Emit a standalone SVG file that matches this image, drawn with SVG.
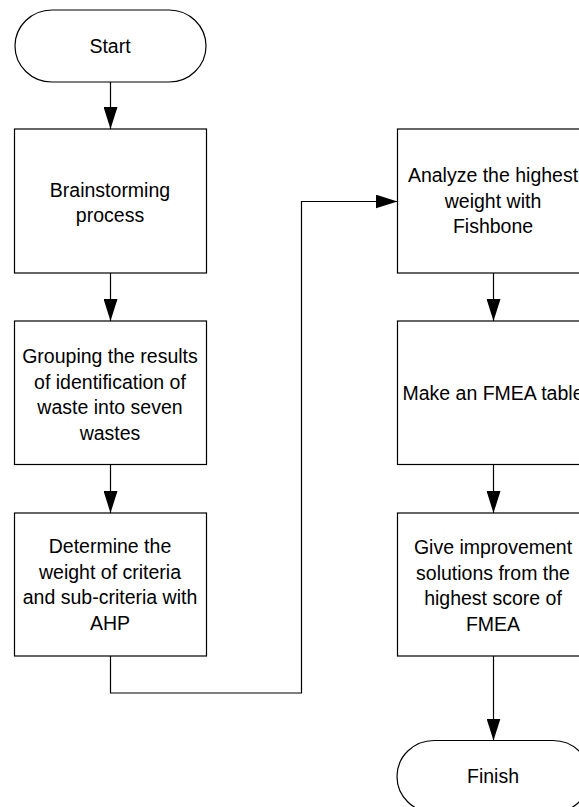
<svg xmlns="http://www.w3.org/2000/svg" width="579" height="807" viewBox="0 0 579 807">
<defs>
<style>
.shape{fill:#fff;stroke:#000;stroke-width:1.2}
.conn{fill:none;stroke:#000;stroke-width:1.2}
.lbl{font-family:"Liberation Sans",Arial,sans-serif;font-size:19.5px;fill:#000;text-anchor:middle}
</style>
<marker id="arr" viewBox="0 0 22 14" refX="22" refY="7" markerWidth="22" markerHeight="14" markerUnits="userSpaceOnUse" orient="auto">
<path d="M0,0 L22,7 L0,14 Z" fill="#000"/>
</marker>
</defs>
<rect width="579" height="807" fill="#fff"/>
<g id="start">
<path class="shape" d="M52,10 H169 A37,36 0 0 1 169,82 H52 A37,36 0 0 1 52,10 Z"/>
<text class="lbl" x="110" y="53">Start</text>
</g>
<g id="brainstorming">
<rect class="shape" x="14.5" y="129" width="192" height="144"/>
<text class="lbl" x="110" y="197">Brainstorming</text>
<text class="lbl" x="110" y="222">process</text>
</g>
<g id="grouping">
<rect class="shape" x="14.5" y="321" width="192" height="143.5"/>
<text class="lbl" x="110" y="363">Grouping the results</text>
<text class="lbl" x="110" y="388.5">of identification of</text>
<text class="lbl" x="110" y="414">waste into seven</text>
<text class="lbl" x="110" y="439.5">wastes</text>
</g>
<g id="determine">
<rect class="shape" x="14.5" y="513" width="192" height="143"/>
<text class="lbl" x="110" y="553">Determine the</text>
<text class="lbl" x="110" y="578.5">weight of criteria</text>
<text class="lbl" x="110" y="604">and sub-criteria with</text>
<text class="lbl" x="110" y="629.5">AHP</text>
</g>
<g id="analyze">
<rect class="shape" x="397.5" y="129" width="192" height="144"/>
<text class="lbl" x="493" y="182">Analyze the highest</text>
<text class="lbl" x="493" y="207.5">weight with</text>
<text class="lbl" x="493" y="233">Fishbone</text>
</g>
<g id="fmea">
<rect class="shape" x="397.5" y="321" width="192" height="143.5"/>
<text class="lbl" x="493" y="400">Make an FMEA table</text>
</g>
<g id="give">
<rect class="shape" x="397.5" y="513" width="192" height="143"/>
<text class="lbl" x="493" y="554">Give improvement</text>
<text class="lbl" x="493" y="579.5">solutions from the</text>
<text class="lbl" x="493" y="605">highest score of</text>
<text class="lbl" x="493" y="630.5">FMEA</text>
</g>
<g id="finish">
<path class="shape" d="M434,740.5 H553 A37,36 0 0 1 553,812.5 H434 A37,36 0 0 1 434,740.5 Z"/>
<text class="lbl" x="493" y="783">Finish</text>
</g>
<g id="connectors">
<path class="conn" marker-end="url(#arr)" d="M110.5,82 V129"/>
<path class="conn" marker-end="url(#arr)" d="M110.5,273 V321"/>
<path class="conn" marker-end="url(#arr)" d="M110.5,464.5 V513"/>
<path class="conn" marker-end="url(#arr)" d="M110.5,656 V693 H301.5 V201.5 H397.5"/>
<path class="conn" marker-end="url(#arr)" d="M493.5,273 V321"/>
<path class="conn" marker-end="url(#arr)" d="M493.5,464.5 V513"/>
<path class="conn" marker-end="url(#arr)" d="M493.5,656 V740.5"/>
</g>
</svg>
